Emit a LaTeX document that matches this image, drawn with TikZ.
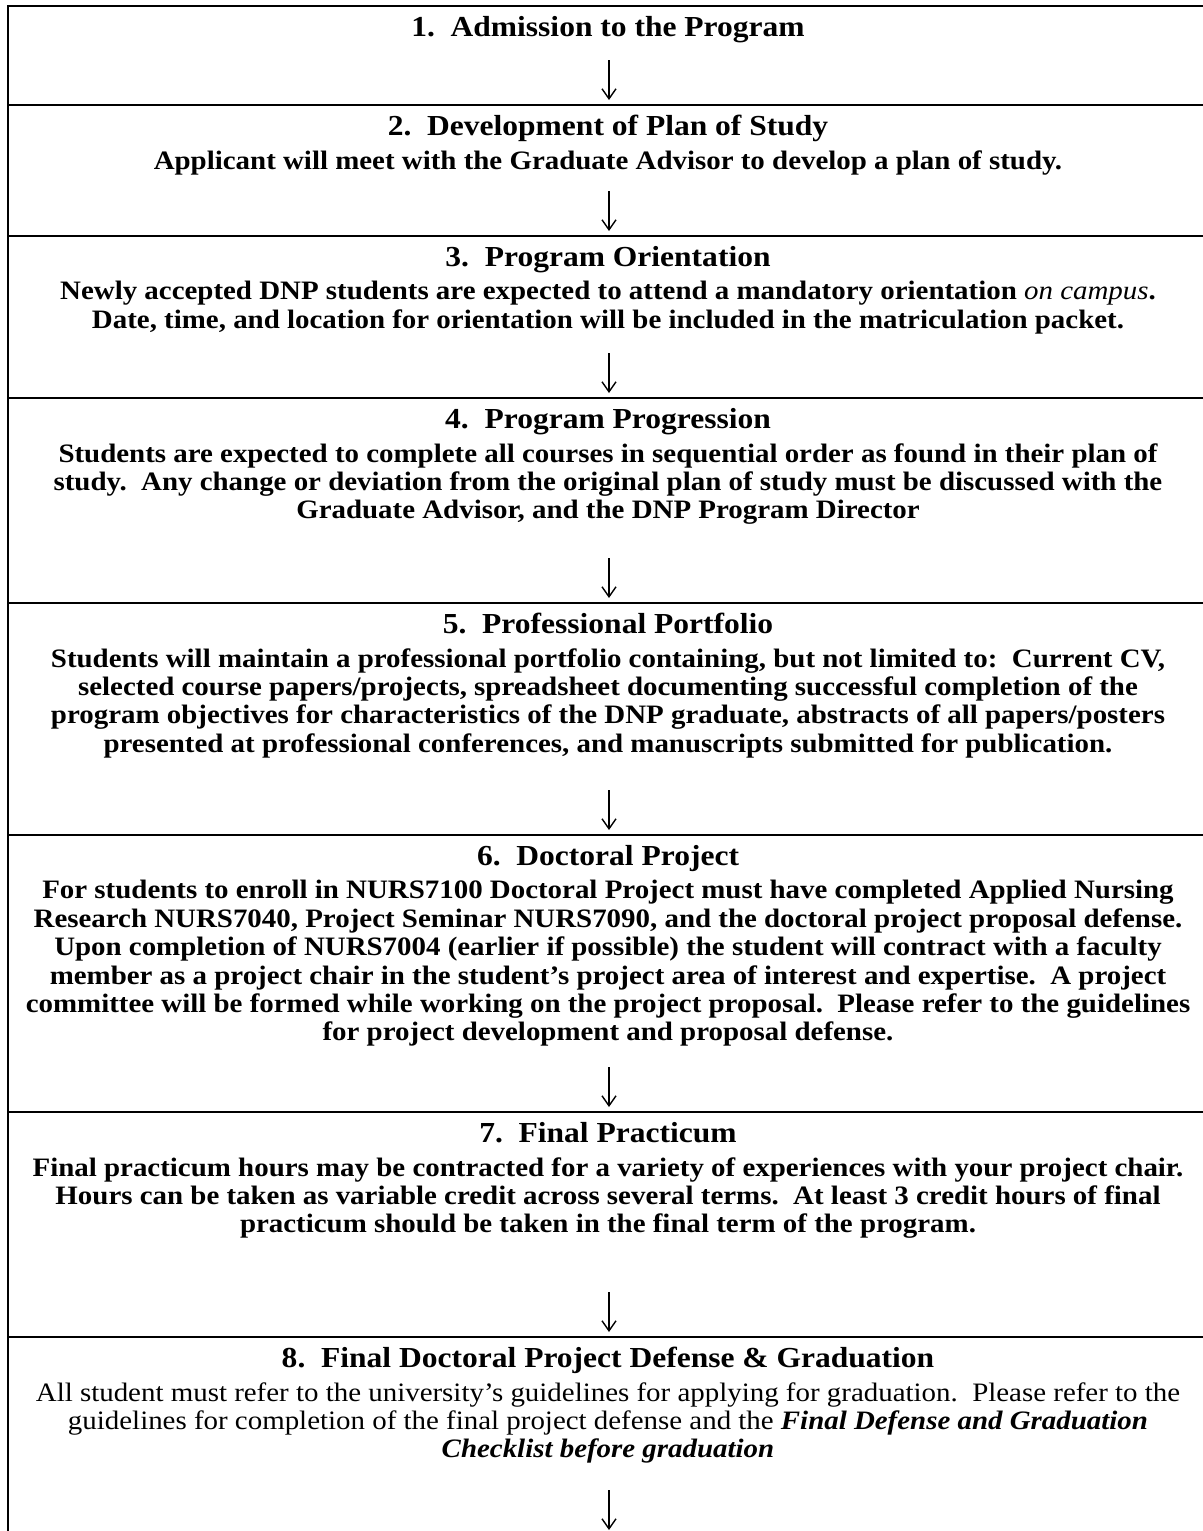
\documentclass[tikz,border=0pt]{standalone}
\usepackage{fontspec}
\setmainfont{Liberation Serif}[FakeStretch=1.087]
\usetikzlibrary{arrows.meta,positioning}

\begin{document}
\begin{tikzpicture}[x=0.5pt,y=-0.5pt,>={Straight Barb[length=5pt,width=7pt]},
  rulebar/.style={line width=1pt},
  steptitle/.style={anchor=base,inner sep=0pt,font=\bfseries\fontsize{14.5}{16}\selectfont},
  stepbody/.style={inner sep=0pt,align=center,font=\bfseries\fontsize{13.3}{14.2}\selectfont},
  flowarrow/.style={->,line width=0.7pt}]
  \useasboundingbox (0,0) rectangle (1203,1531);
  % frame and row rules
  \draw[rulebar] (7.5,1531) -- (7.5,6) -- (1203,6);
  \foreach \y in {105,236,398,603,835,1112,1337}
    \draw[rulebar] (7.5,\y) -- (1203,\y);
  % stage titles
  \node[steptitle] (t1) at (608,36) {1.~~Admission to the Program};
  \node[steptitle] (t2) at (608,135) {2.~~Development of Plan of Study};
  \node[steptitle] (t3) at (608,266) {3.~~Program Orientation};
  \node[steptitle] (t4) at (608,428) {4.~~Program Progression};
  \node[steptitle] (t5) at (608,633) {5.~~Professional Portfolio};
  \node[steptitle] (t6) at (608,865) {6.~~Doctoral Project};
  \node[steptitle] (t7) at (608,1142) {7.~~Final Practicum};
  \node[steptitle] (t8) at (608,1367) {8.~~Final Doctoral Project Defense \& Graduation};
  % stage texts
  \node[stepbody,below=7.5pt of t2.base] (b2) {Applicant will meet with the Graduate Advisor to develop a plan of study.};
  \node[stepbody,below=7.5pt of t3.base] (b3) {Newly accepted DNP students are expected to attend a mandatory orientation {\mdseries\itshape on campus}.\\
    Date, time, and location for orientation will be included in the matriculation packet.};
  \node[stepbody,below=7.5pt of t4.base] (b4) {Students are expected to complete all courses in sequential order as found in their plan of\\
    study.~~Any change or deviation from the original plan of study must be discussed with the\\
    Graduate Advisor, and the DNP Program Director};
  \node[stepbody,below=7.5pt of t5.base] (b5) {Students will maintain a professional portfolio containing, but not limited to:~~Current CV,\\
    selected course papers/projects, spreadsheet documenting successful completion of the\\
    program objectives for characteristics of the DNP graduate, abstracts of all papers/posters\\
    presented at professional conferences, and manuscripts submitted for publication.};
  \node[stepbody,below=7.5pt of t6.base] (b6) {For students to enroll in NURS7100 Doctoral Project must have completed Applied Nursing\\
    Research NURS7040, Project Seminar NURS7090, and the doctoral project proposal defense.\\
    Upon completion of NURS7004 (earlier if possible) the student will contract with a faculty\\
    member as a project chair in the student’s project area of interest and expertise.~~A project\\
    committee will be formed while working on the project proposal.~~Please refer to the guidelines\\
    for project development and proposal defense.};
  \node[stepbody,below=7.5pt of t7.base] (b7) {Final practicum hours may be contracted for a variety of experiences with your project chair.\\
    Hours can be taken as variable credit across several terms.~~At least 3 credit hours of final\\
    practicum should be taken in the final term of the program.};
  \node[stepbody,font=\fontsize{13.3}{14.2}\selectfont,below=7.5pt of t8.base] (b8) {All student must refer to the university’s guidelines for applying for graduation.~~Please refer to the\\
    guidelines for completion of the final project defense and the \textbf{\textit{Final Defense and Graduation}}\\
    \textbf{\textit{Checklist before graduation}}};
  % arrows at the foot of each stage
  \foreach \y [count=\i] in {105,236,398,603,835,1112,1337,1535} {
    \coordinate (up\i) at (609,\y-45);
    \coordinate (dn\i) at (609,\y-5);
    \draw[flowarrow] (up\i) -- (dn\i);
  }
\end{tikzpicture}
\end{document}
